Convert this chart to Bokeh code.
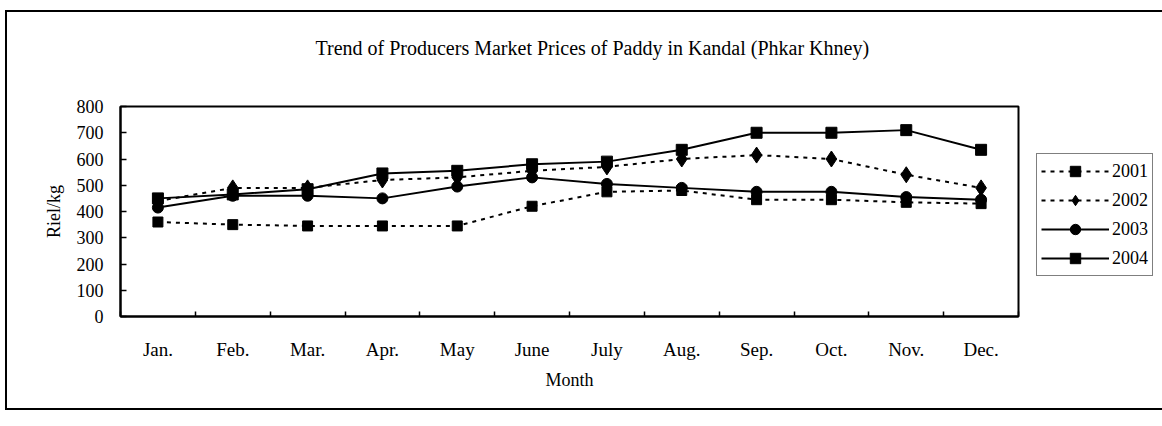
from bokeh.plotting import figure
from bokeh.models import FixedTicker, Legend, LegendItem, Range1d
from bokeh.embed import file_html
from bokeh.resources import INLINE

months = ["Jan.", "Feb.", "Mar.", "Apr.", "May", "June", "July", "Aug.", "Sep.", "Oct.", "Nov.", "Dec."]
years = ["2001", "2002", "2003", "2004"]
y2001 = [360, 350, 345, 345, 345, 420, 475, 480, 445, 445, 435, 430]
y2002 = [440, 490, 490, 520, 530, 555, 570, 600, 615, 600, 540, 490]
y2003 = [415, 460, 460, 450, 495, 530, 505, 490, 475, 475, 455, 445]
y2004 = [450, 465, 485, 545, 555, 580, 590, 635, 700, 700, 710, 635]
y_ticks = [0, 100, 200, 300, 400, 500, 600, 700, 800]

FONT = "Liberation Serif"
xs = list(range(1, len(months) + 1))

p = figure(frame_width=898, frame_height=210,
           min_border_left=113, min_border_right=140,
           min_border_top=94, min_border_bottom=92,
           x_range=Range1d(0.5, len(months) + 0.5), y_range=Range1d(0, 800),
           output_backend="svg", toolbar_location=None,
           title="Trend of Producers Market Prices of Paddy in Kandal (Phkar Khney)")
p.styles = {"border-left": "2px solid black", "border-top": "2px solid black",
            "border-bottom": "2px solid black",
            "margin-left": "5px", "margin-top": "10px"}

p.title.align = "left"
p.title.offset = 195
p.title.standoff = 0
p.title.padding = (0, 0, 0, 48)
p.title.text_font = FONT
p.title.text_font_size = "20px"
p.title.text_font_style = "normal"
p.title.text_color = "black"

p.grid.visible = False
p.outline_line_color = "black"
p.outline_line_width = 2

# x axis
xa = p.xaxis[0]
xa.ticker = FixedTicker(ticks=xs, minor_ticks=[i + 0.5 for i in range(0, len(months) + 1)])
xa.major_label_overrides = {i: m for i, m in zip(xs, months)}
xa.major_tick_line_color = None
xa.minor_tick_in = 5
xa.minor_tick_out = 0
xa.minor_tick_line_width = 1.5
xa.minor_tick_line_color = "black"
xa.axis_line_width = 2
xa.axis_line_color = "black"
xa.major_label_standoff = 16
xa.major_label_text_font = FONT
xa.major_label_text_font_size = "19px"
xa.major_label_text_color = "black"
xa.axis_label = "Month"
xa.axis_label_text_font = FONT
xa.axis_label_text_font_size = "18px"
xa.axis_label_text_font_style = "normal"
xa.axis_label_text_color = "black"
xa.axis_label_standoff = 7

# y axis
ya = p.yaxis[0]
ya.ticker = FixedTicker(ticks=y_ticks)
ya.major_tick_in = 6
ya.major_tick_out = 0
ya.major_tick_line_width = 1.5
ya.major_tick_line_color = "black"
ya.minor_tick_line_color = None
ya.axis_line_width = 2
ya.axis_line_color = "black"
ya.major_label_standoff = 17
ya.major_label_text_font = FONT
ya.major_label_text_font_size = "18px"
ya.major_label_text_color = "black"
ya.axis_label = "Riel/kg"
ya.axis_label_text_font = FONT
ya.axis_label_text_font_size = "18px"
ya.axis_label_text_font_style = "normal"
ya.axis_label_text_color = "black"
ya.axis_label_standoff = 10

series = [
    (years[0], y2001, "4 5", "square", 10),
    (years[1], y2002, "4 5", "diamond", 16),
    (years[2], y2003, "solid", "circle", 11),
    (years[3], y2004, "solid", "square", 11),
]
items = []
for name, ys, dash, marker, size in series:
    ln = p.line(xs, ys, line_color="black", line_width=2, line_dash=dash)
    sc = p.scatter(xs, ys, marker=marker, size=size,
                   fill_color="black", line_color="black")
    items.append(LegendItem(label=name, renderers=[ln, sc]))

legend = Legend(items=items, location=(18, 40))
legend.glyph_width = 68
legend.glyph_height = 26
legend.label_height = 26
legend.spacing = 3
legend.padding = 4
legend.margin = 0
legend.label_standoff = 3
legend.label_text_font = FONT
legend.label_text_font_size = "18px"
legend.label_text_color = "black"
legend.border_line_color = "black"
legend.border_line_width = 1.5
legend.background_fill_alpha = 1
p.add_layout(legend, "right")

open("out.html", "w").write(file_html(p, INLINE))
